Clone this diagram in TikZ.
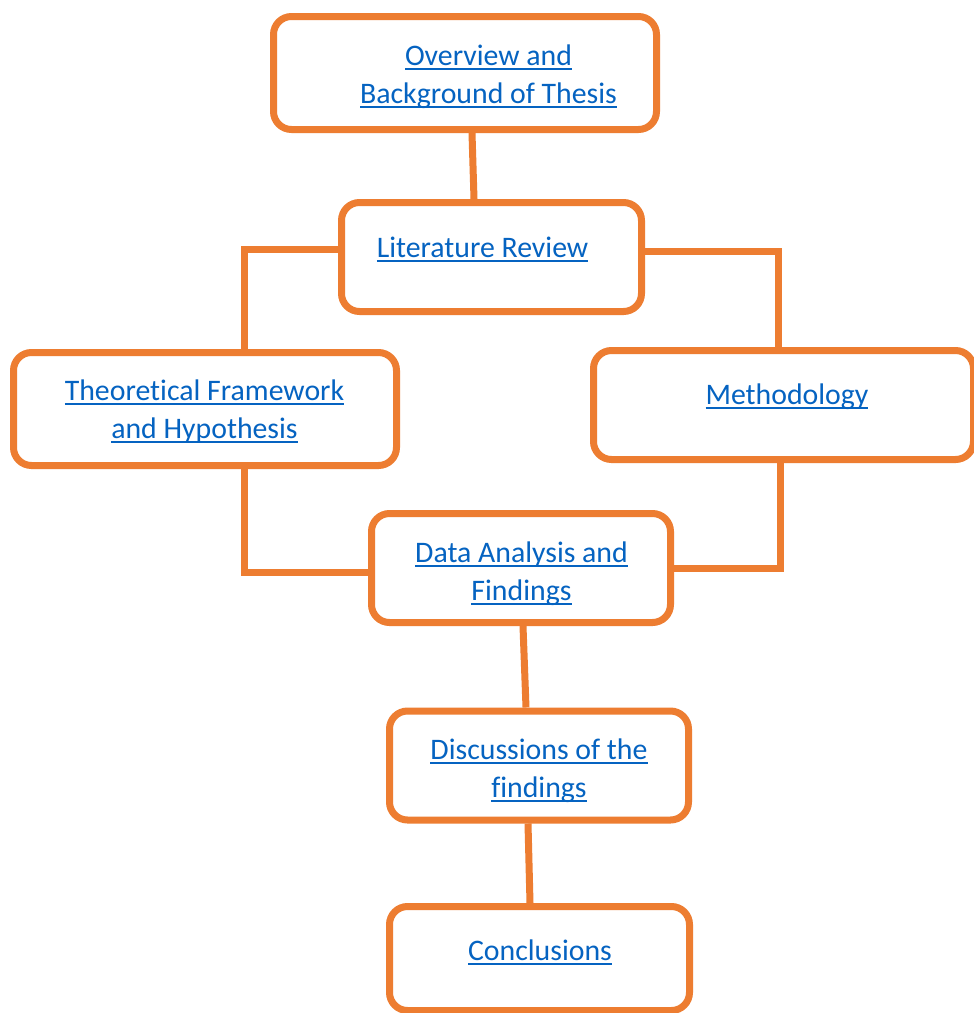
\documentclass[tikz,border=0pt]{standalone}
\usepackage{fontspec}
\setmainfont{Carlito}[Ligatures=NoCommon]
\definecolor{boxorange}{HTML}{ED7D31}
\definecolor{linkblue}{HTML}{0563C1}
% one underlined line of link text, with a fixed height and depth
\newcommand\hl[1]{\setbox0\hbox{#1}\rule[-11pt]{0pt}{38pt}\rlap{\rule[-5.3pt]{\wd0}{2pt}}\box0}
\tikzset{
  stage/.style={draw=boxorange, line width=7pt, fill=white, rounded corners=18pt,
    inner sep=0pt, minimum width=#1},
  caption/.style={text=linkblue, align=center, inner sep=0pt,
    font=\fontsize{29.8}{38}\selectfont},
  link/.style={draw=boxorange, line width=7pt, line join=miter}
}
\begin{document}
\begin{tikzpicture}[x=1pt, y=-1pt]
\useasboundingbox[fill=white] (0,0) rectangle (974,1013);

% boxes
\node[stage=383pt, minimum height=113pt] (ov)   at (465,73)     {};
\node[stage=300pt, minimum height=109pt] (lit)  at (491.5,257)  {};
\node[stage=383pt, minimum height=113pt] (theo) at (205,409)    {};
\node[stage=380pt, minimum height=109pt] (meth) at (783.5,405)  {};
\node[stage=299pt, minimum height=109pt] (data) at (521,568)    {};
\node[stage=299pt, minimum height=109pt] (disc) at (539,765.5)  {};
\node[stage=300pt, minimum height=104pt] (conc) at (539.5,958.5){};

% labels
\node[caption] (tov)   at (488.5,76) {\hl{Overview and}\\\hl{Background of Thesis}};
\node[caption] (tlit)  at (482.5,249) {\hl{Literature Review}};
\node[caption] (ttheo) at (204.5,411) {\hl{Theoretical Framework}\\\hl{and Hypothesis}};
\node[caption] (tmeth) at (787,396) {\hl{Methodology}};
\node[caption] (tdata) at (521.5,573) {\hl{Data Analysis and}\\\hl{Findings}};
\node[caption] (tdisc) at (539,770) {\hl{Discussions of the}\\\hl{findings}};
\node[caption] (tconc) at (540,952) {\hl{Conclusions}};

% connectors
\draw[link] ([xshift=7pt]ov.south) -- ([xshift=-17.5pt]lit.north);
\draw[link] ([yshift=8pt]lit.west) -| ([xshift=39.5pt]theo.north);
\draw[link] ([yshift=6pt]lit.east) -| ([xshift=-5.5pt]meth.north);
\draw[link] ([xshift=39.5pt]theo.south) |- ([yshift=-4pt]data.west);
\draw[link] ([xshift=-3.5pt]meth.south) |- (data.east);
\draw[link] ([xshift=2pt]data.south) -- ([xshift=-13pt]disc.north);
\draw[link] ([xshift=-11pt]disc.south) -- ([xshift=-9.5pt]conc.north);
\end{tikzpicture}
\end{document}
